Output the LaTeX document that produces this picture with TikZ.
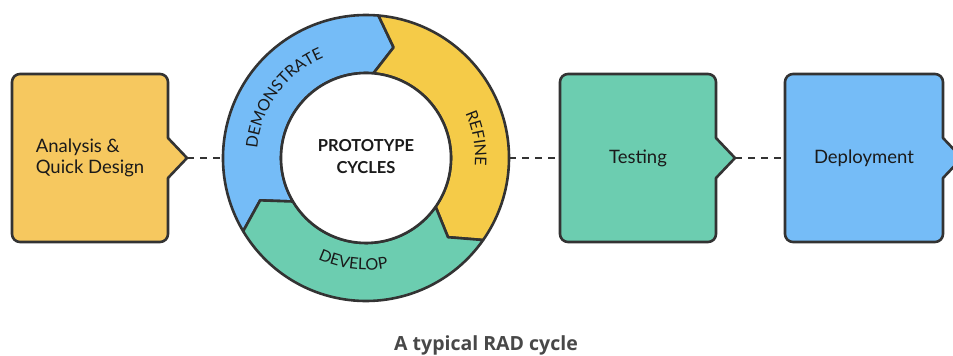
\documentclass[tikz,border=0pt]{standalone}
\usepackage{fontspec}
\setmainfont{Lato}
\newfontfamily\captionface{Open Sans}
\usetikzlibrary{decorations.text}

\definecolor{ink}{HTML}{333333}
\definecolor{txt}{HTML}{1A1A1A}
\definecolor{boxyellow}{HTML}{F6C85F}
\definecolor{ringyellow}{HTML}{F5CB48}
\definecolor{skyblue}{HTML}{75BCF7}
\definecolor{mint}{HTML}{6CCDB0}
\definecolor{capgray}{HTML}{484848}

\newcommand\boxfont{\fontsize{18.5}{21}\selectfont}
\newcommand\arcfont{\fontsize{16}{16}\selectfont}

% box with rounded corners and a pointed notch on its right side
\newcommand\notchbox[5]{%
  \draw[boxline, fill=#4]
    (#3,178) -- (#3,122) arc[start angle=0, end angle=-90, radius=8]
    -- (#2+8,114) arc[start angle=-90, end angle=-180, radius=8]
    -- (#2,274) arc[start angle=180, end angle=90, radius=8]
    -- (#3-8,282) arc[start angle=90, end angle=0, radius=8]
    -- (#3,218) -- (#3+19,198) -- cycle;
  \node[boxbody, minimum width=#3-#2] (#1) at ({(#2+#3)/2},198) {#5};
  \coordinate (#1-tip) at (#3+19,198);}

% one arrow-shaped segment of the ring, running clockwise from #2 to #3
\newcommand\ringseg[3]{%
  \draw[boxline, fill=#1]
    (#2:143) arc[start angle=#2, end angle=#3, radius=143]
    -- (#3-9:114) -- (#3:85) arc[start angle=#3, end angle=#2, radius=85]
    -- (#2-9:114) -- cycle;}

\begin{document}
\begin{tikzpicture}[x=1pt, y=1pt,
  boxline/.style={draw=ink, line width=2.6pt, line join=round},
  boxbody/.style={minimum height=168pt, inner sep=0pt, align=left, font=\boxfont, text=txt},
  link/.style={draw=ink, line width=2.8pt, dash pattern=on 7pt off 6pt},
  arclabel/.style={decorate, decoration={text along path, text align=center, text={#1}}}]

\useasboundingbox (0,0) rectangle (953,356);
\clip (0,0) rectangle (953,356);
\fill[white] (0,0) rectangle (953,356);

% process boxes
\notchbox{analysis}{12}{168}{boxyellow}{Analysis \&\\Quick Design}
\notchbox{testing}{560}{716}{mint}{Testing}
\notchbox{deploy}{785}{943}{skyblue}{Deployment}

% prototype cycle ring
\begin{scope}[shift={(366,198)}]
  \ringseg{skyblue}{210.8}{85}
  \ringseg{ringyellow}{85}{-35}
  \ringseg{mint}{-35}{-149.2}
  \draw[boxline, fill=white] (0,0) circle[radius=85];
  \path[arclabel={|\arcfont\color{txt}|DEMONSTRATE}] (184:109) arc[start angle=184, end angle=104, radius=109];
  \path[arclabel={|\arcfont\color{txt}|REFINE}] (45:109) arc[start angle=45, end angle=-25, radius=109];
  \path[arclabel={|\arcfont\color{txt}|DEVELOP}] (-143:112) arc[start angle=-143, end angle=-51, radius=112];
\end{scope}
\node[circle, minimum size=286pt, inner sep=0pt] (ring) at (366,198) {};
\node[font=\fontsize{16.5}{22}\selectfont\bfseries, text=txt, align=center] (core) at (366,199) {PROTOTYPE\\CYCLES};

% dashed connectors
\draw[link] (analysis-tip) -- (ring.west);
\draw[link] (ring.east) -- (testing.west);
\draw[link] (testing-tip) -- (deploy.west);

% caption
\node[font=\captionface\fontsize{19.5}{22}\selectfont\bfseries, text=capgray] (caption) at (486,11) {A typical RAD cycle};
\end{tikzpicture}
\end{document}
